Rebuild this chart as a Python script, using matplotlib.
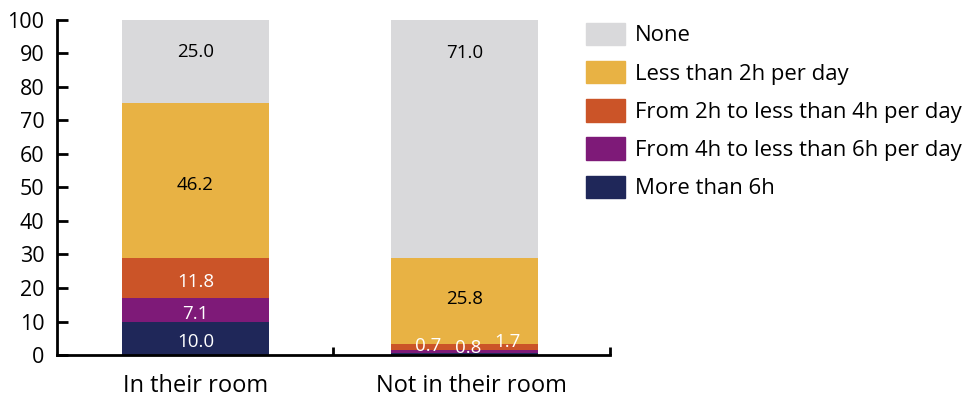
import numpy as np
import matplotlib.pyplot as plt
from matplotlib.patches import Patch

plt.rcParams['font.family'] = ['Open Sans', 'DejaVu Sans']

categories = ['In their room', 'Not in their room']
series = ['More than 6h', 'From 4h to less than 6h per day',
          'From 2h to less than 4h per day', 'Less than 2h per day', 'None']
values = {
    'More than 6h': [10.0, 0.7],
    'From 4h to less than 6h per day': [7.1, 0.8],
    'From 2h to less than 4h per day': [11.8, 1.7],
    'Less than 2h per day': [46.2, 25.8],
    'None': [25.0, 71.0],
}
colors = {
    'More than 6h': '#1f2759',
    'From 4h to less than 6h per day': '#7e1a78',
    'From 2h to less than 4h per day': '#cb5428',
    'Less than 2h per day': '#e8b244',
    'None': '#d9d9db',
}
text_colors = {
    'More than 6h': 'white',
    'From 4h to less than 6h per day': 'white',
    'From 2h to less than 4h per day': 'white',
    'Less than 2h per day': 'black',
    'None': 'black',
}

fig = plt.figure(figsize=(9.65, 3.98), dpi=100)
ax = fig.add_axes([0.059, 0.108, 0.573, 0.842])

x = np.arange(len(categories))
width = 0.546
nudge = [-1.2, 0.6]
bottom = np.zeros(len(categories))
for name in series:
    vals = np.array(values[name])
    ax.bar(x, vals, width, bottom=bottom, color=colors[name], linewidth=0)
    for i, v in enumerate(vals):
        if v < 5:
            continue
        if name == 'None':
            y = bottom[i] + v - 9.8
        else:
            y = bottom[i] + v / 2 + nudge[i]
        ax.text(x[i], y, f'{v:.1f}', ha='center', va='center',
                fontsize=13.5, color=text_colors[name])
    bottom += vals

# thin slices in the second bar get their labels spread sideways
small = ['More than 6h', 'From 4h to less than 6h per day',
         'From 2h to less than 4h per day']
offsets = [(-0.135, 2.6), (0.013, 2.0), (0.162, 3.8)]
for name, (dx, y) in zip(small, offsets):
    ax.text(x[1] + dx, y, f'{values[name][1]:.1f}', ha='center', va='center',
            fontsize=13.5, color='white')

ax.set_ylim(0, 100)
ax.set_xlim(-0.515, 1.541)
ax.set_yticks(range(0, 101, 10))
# category names sit in the middle of each axis section
ax.set_xticks([0.0, 1.026])
ax.set_xticklabels(categories)
ax.set_xticks([0.511, 1.541], minor=True)
ax.tick_params(axis='x', which='major', length=0, pad=14, labelsize=17)
ax.tick_params(axis='x', which='minor', direction='in', length=6, width=2)
ax.tick_params(axis='y', direction='in', length=8, width=2, pad=9, labelsize=15.5)
for side in ['top', 'right']:
    ax.spines[side].set_visible(False)
for side in ['left', 'bottom']:
    ax.spines[side].set_linewidth(2)

handles = [Patch(color=colors[n], label=n) for n in series[::-1]]
fig.legend(handles=handles, loc='upper left', bbox_to_anchor=(0.598, 0.965),
           frameon=False, fontsize=15.9, handlelength=1.77, handleheight=1.18,
           handletextpad=0.45, labelspacing=0.66, borderaxespad=0)

fig.savefig('out.png', dpi=100)
